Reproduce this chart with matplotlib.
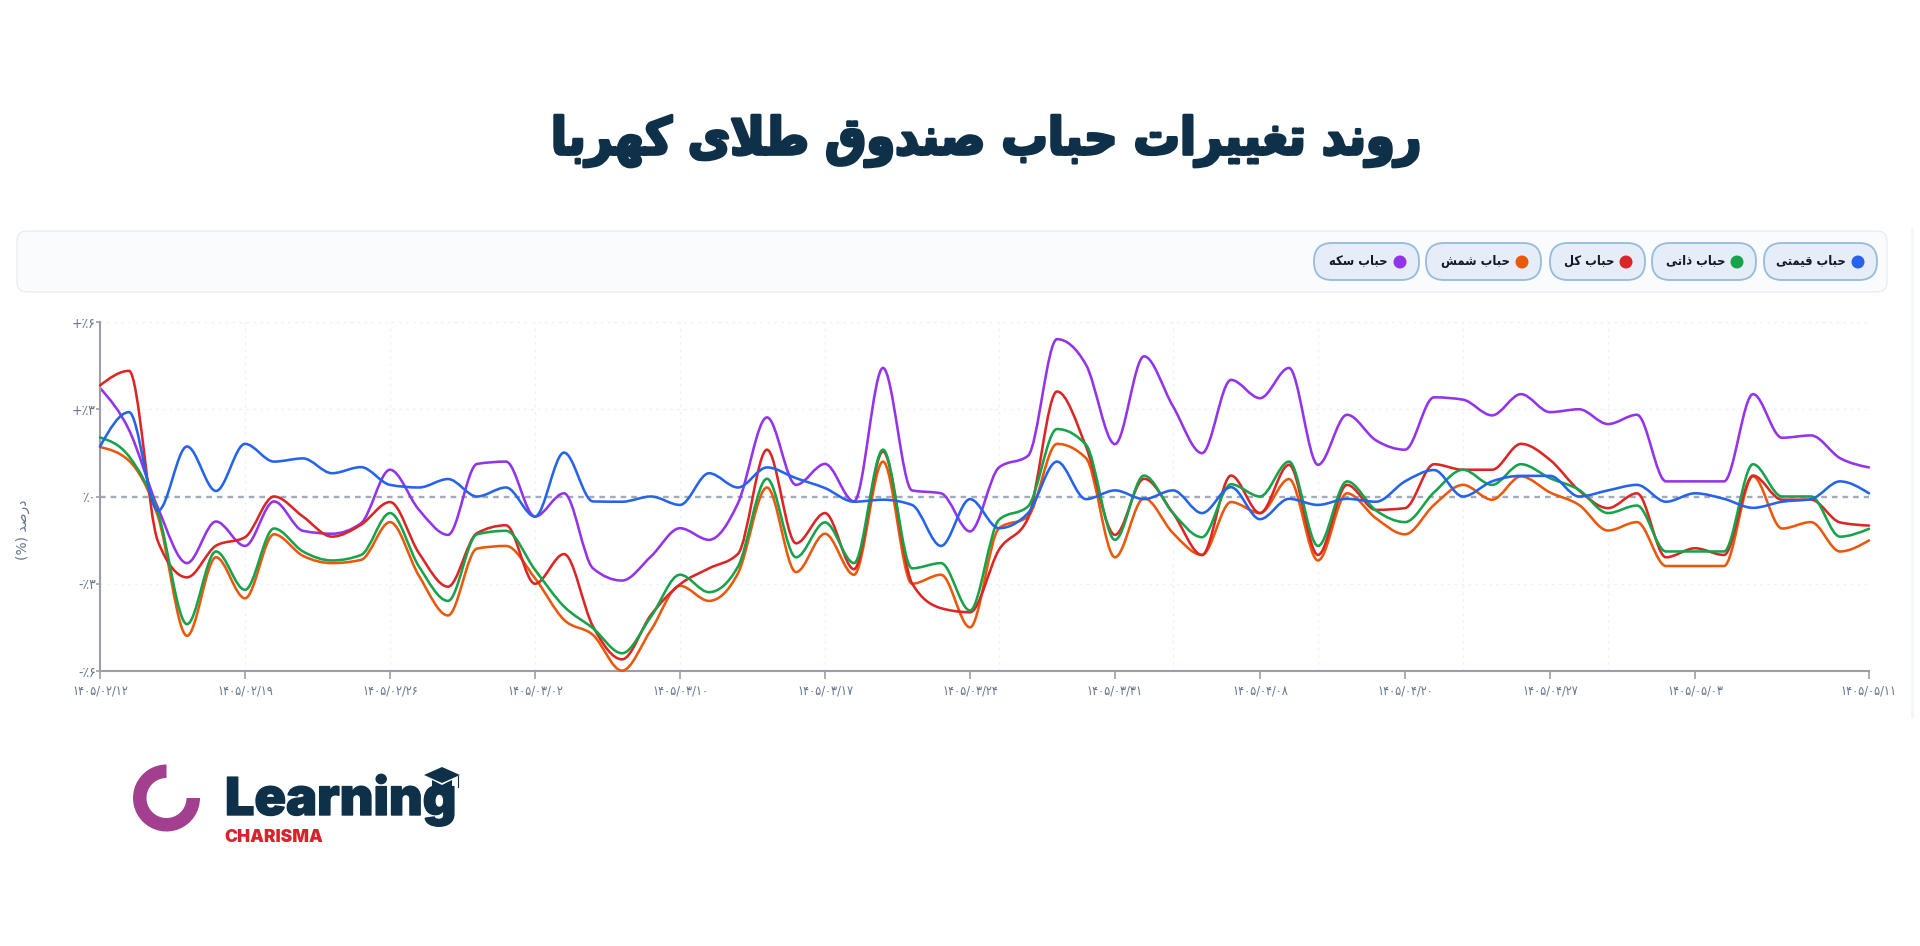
import numpy as np
import matplotlib
matplotlib.use("Agg")
import matplotlib.pyplot as plt
import matplotlib.patheffects as pe
from matplotlib.path import Path
from matplotlib.patches import PathPatch, FancyBboxPatch, Circle, Wedge, Polygon

# chart data, bubble in percent for each trading day
bubble_price = [1.72, 2.90, -0.49, 1.72, 0.19, 1.81, 1.20, 1.31, 0.80, 1.01, 0.40, 0.31, 0.60, 0.00, 0.31, -0.69,
                1.51, -0.17, -0.18, 0.00, -0.29, 0.80, 0.31, 1.00, 0.63, 0.29, -0.18, -0.11, -0.29, -1.70, -0.09,
                -1.09, -0.57, 1.20, -0.09, 0.21, -0.09, 0.21, -0.57, 0.32, -0.78, -0.08, -0.29, -0.08, -0.18, 0.52,
                0.91, 0.00, 0.52, 0.71, 0.71, 0.00, 0.21, 0.40, -0.18, 0.11, -0.08, -0.39, -0.18, -0.09, 0.52, 0.11]
bubble_intrinsic = [2.03, 1.38, -0.57, -4.39, -1.89, -3.21, -1.10, -1.89, -2.20, -2.01, -0.57, -2.41, -3.59, -1.30,
                    -1.18, -2.52, -3.78, -4.53, -5.39, -4.13, -2.69, -3.29, -2.41, 0.61, -2.09, -0.89, -2.29, 1.61,
                    -2.47, -2.29, -3.92, -0.80, -0.34, 2.32, 1.78, -1.49, 0.72, -0.57, -1.40, 0.42, 0.00, 1.20,
                    -1.70, 0.52, -0.48, -0.88, 0.14, 0.92, 0.40, 1.11, 0.63, 0.23, -0.57, -0.31, -1.89, -1.89, -1.89,
                    1.11, 0.00, 0.00, -1.38, -1.11]
bubble_total = [3.82, 4.32, -1.55, -2.78, -1.69, -1.40, 0.00, -0.69, -1.38, -0.97, -0.19, -1.95, -3.10, -1.26, -0.99,
                -3.00, -1.98, -4.47, -5.60, -4.07, -3.02, -2.47, -1.97, 1.61, -1.61, -0.57, -2.50, 1.55, -2.98, -3.84,
                -3.98, -1.83, -0.75, 3.61, 1.72, -1.32, 0.61, -0.57, -2.01, 0.72, -0.57, 1.09, -2.01, 0.40, -0.46,
                -0.40, 1.11, 0.92, 0.92, 1.81, 1.26, 0.21, -0.40, 0.11, -2.09, -1.78, -2.01, 0.72, -0.11, -0.11,
                -0.89, -1.00]
bubble_bar = [1.70, 1.23, -0.69, -4.79, -2.09, -3.50, -1.30, -2.04, -2.29, -2.18, -0.88, -2.73, -4.09, -1.79, -1.70,
              -2.81, -4.24, -4.76, -5.99, -4.59, -3.07, -3.59, -2.64, 0.31, -2.60, -1.28, -2.69, 1.20, -3.00, -2.69,
              -4.50, -1.09, -0.69, 1.81, 1.32, -2.09, -0.06, -1.26, -2.01, -0.19, -0.57, 0.60, -2.20, 0.11, -0.75,
              -1.30, -0.29, 0.40, -0.11, 0.69, 0.14, -0.29, -1.17, -0.88, -2.39, -2.39, -2.39, 0.69, -1.10, -0.88,
              -1.89, -1.51]
bubble_coin = [3.73, 2.29, -0.40, -2.29, -0.86, -1.70, -0.17, -1.18, -1.28, -0.92, 0.92, -0.46, -1.32, 1.12, 1.20,
               -0.69, 0.11, -2.47, -2.89, -2.06, -1.09, -1.49, -0.23, 2.72, 0.40, 1.12, -0.17, 4.42, 0.21, 0.11,
               -1.20, 1.00, 1.40, 5.41, 4.53, 1.80, 4.82, 3.10, 1.49, 4.01, 3.38, 4.42, 1.09, 2.81, 1.93, 1.61, 3.41,
               3.33, 2.79, 3.52, 2.90, 3.00, 2.49, 2.81, 0.52, 0.52, 0.52, 3.52, 2.02, 2.10, 1.32, 1.00]

tick_index = [0, 5, 10, 15, 20, 25, 30, 35, 40, 45, 50, 55, 61]
tick_labels = ["۱۴۰۵/۰۲/۱۲", "۱۴۰۵/۰۲/۱۹", "۱۴۰۵/۰۲/۲۶", "۱۴۰۵/۰۳/۰۲", "۱۴۰۵/۰۳/۱۰", "۱۴۰۵/۰۳/۱۷", "۱۴۰۵/۰۳/۲۴",
               "۱۴۰۵/۰۳/۳۱", "۱۴۰۵/۰۴/۰۸", "۱۴۰۵/۰۴/۲۰", "۱۴۰۵/۰۴/۲۷", "۱۴۰۵/۰۵/۰۳", "۱۴۰۵/۰۵/۱۱"]
grid_index = [5, 10, 15, 20, 25, 31, 37, 42, 47, 52, 61]
y_ticks = [-6, -3, 0, 3, 6]
y_tick_labels = ["-٪۶", "-٪۳", "٪۰", "+٪۳", "+٪۶"]

title_text = "روند تغییرات حباب صندوق طلای کهربا"
y_label_text = "درصد (%)"
series_names = ["حباب قیمتی", "حباب ذاتی", "حباب کل", "حباب شمش", "حباب سکه"]
series_colors = ["#2563eb", "#16a34a", "#dc2626", "#ea580c", "#9333ea"]

W, H = 1920, 946
NAVY = "#0f3049"
AXIS_GRAY = "#9b9fa5"
LABEL_GRAY = "#64748b"

# matplotlib does no arabic shaping, so pick the joined glyphs by hand
FORMS = {
    "ا": (0xFE8D, 0xFE8E), "د": (0xFEA9, 0xFEAA), "ذ": (0xFEAB, 0xFEAC), "ر": (0xFEAD, 0xFEAE), "و": (0xFEED, 0xFEEE),
    "ب": (0xFE8F, 0xFE90, 0xFE91, 0xFE92), "ت": (0xFE95, 0xFE96, 0xFE97, 0xFE98), "ح": (0xFEA1, 0xFEA2, 0xFEA3, 0xFEA4),
    "س": (0xFEB1, 0xFEB2, 0xFEB3, 0xFEB4), "ش": (0xFEB5, 0xFEB6, 0xFEB7, 0xFEB8), "ص": (0xFEB9, 0xFEBA, 0xFEBB, 0xFEBC),
    "ط": (0xFEC1, 0xFEC2, 0xFEC3, 0xFEC4), "غ": (0xFECD, 0xFECE, 0xFECF, 0xFED0), "ق": (0xFED5, 0xFED6, 0xFED7, 0xFED8),
    "ل": (0xFEDD, 0xFEDE, 0xFEDF, 0xFEE0), "م": (0xFEE1, 0xFEE2, 0xFEE3, 0xFEE4), "ن": (0xFEE5, 0xFEE6, 0xFEE7, 0xFEE8),
    "ه": (0xFEE9, 0xFEEA, 0xFEEB, 0xFEEC), "ک": (0xFB8E, 0xFB8F, 0xFB90, 0xFB91), "ی": (0xFBFC, 0xFBFD, 0xFBFE, 0xFBFF),
}
MIRROR = {"(": ")", ")": "("}


def fa(text):
    out = []
    i = 0
    while i < len(text):
        ch = text[i]
        if ch not in FORMS:
            out.append(MIRROR.get(ch, ch))
            i += 1
            continue
        prev_joins = i > 0 and len(FORMS.get(text[i - 1], ())) == 4
        # lam + alef is one glyph
        if ch == "ل" and text[i + 1:i + 2] == "ا":
            out.append(chr(0xFEFC if prev_joins else 0xFEFB))
            i += 2
            continue
        forms = FORMS[ch]
        next_joins = i + 1 < len(text) and text[i + 1] in FORMS
        if len(forms) == 4 and next_joins:
            out.append(chr(forms[3] if prev_joins else forms[2]))
        else:
            out.append(chr(forms[1] if prev_joins else forms[0]))
        i += 1
    return "".join(reversed(out))


def monotone_path(y):
    # same curve the web chart uses (monotone x), through the data points
    y = np.asarray(y, dtype=float)
    x = np.arange(len(y), dtype=float)
    s = np.diff(y)
    t = np.zeros(len(y))
    for i in range(1, len(y) - 1):
        p = (s[i - 1] + s[i]) / 2
        t[i] = (np.sign(s[i - 1]) + np.sign(s[i])) * min(abs(s[i - 1]), abs(s[i]), 0.5 * abs(p))
    t[0] = (3 * s[0] - t[1]) / 2
    t[-1] = (3 * s[-1] - t[-2]) / 2
    verts = [(x[0], y[0])]
    codes = [Path.MOVETO]
    for i in range(len(y) - 1):
        verts += [(x[i] + 1 / 3, y[i] + t[i] / 3), (x[i + 1] - 1 / 3, y[i + 1] - t[i + 1] / 3), (x[i + 1], y[i + 1])]
        codes += [Path.CURVE4] * 3
    return Path(verts, codes)


fig = plt.figure(figsize=(W / 100, H / 100), dpi=100, facecolor="white")

# page layer in pixel coordinates: title, legend strip, logo
page = fig.add_axes([0, 0, 1, 1])
page.set_xlim(0, W)
page.set_ylim(H, 0)
page.axis("off")

title = page.text(986, 141, fa(title_text), ha="center", va="center", fontsize=37, fontweight="bold",
                  color=NAVY, family="DejaVu Sans", stretch="condensed")
title.set_path_effects([pe.withStroke(linewidth=2.2, foreground=NAVY)])

page.add_patch(FancyBboxPatch((27, 241), 1850, 41, boxstyle="round,pad=10,rounding_size=10",
                              fc="#fafbfd", ec="#e9edf3", lw=1))

pill_left = [1764, 1652, 1550, 1426, 1314]
pill_right = [1877, 1756, 1645, 1541, 1419]
for name, color, x0, x1 in zip(series_names, series_colors, pill_left, pill_right):
    page.add_patch(FancyBboxPatch((x0 + 18, 243 + 18), x1 - x0 - 36, 1, boxstyle="round,pad=18,rounding_size=18",
                                  fc="#e5eef8", ec="#96bbdd", lw=1.3))
    page.add_patch(Circle((x1 - 19, 262), 6.5, fc=color, ec="none", zorder=3))
    page.text(x1 - 31, 261, fa(name), ha="right", va="center", fontsize=9.3, fontweight="bold", color="#111827",
              family="DejaVu Sans", stretch="condensed", zorder=3)

# pale strip near the right page edge
page.fill_between([1911, 1914], 228, 718, color="#f3f7fb", lw=0)

# logo
page.add_patch(Wedge((166.5, 798), 33.5, 0, 270, width=13.5, fc="#a2408f", ec="none"))
page.text(225, 815, "Learning", ha="left", va="baseline", fontsize=37.5, fontweight="black", color=NAVY, family="Inter",
          path_effects=[pe.withStroke(linewidth=1, foreground=NAVY)])
page.text(224, 842, "CHARISMA", ha="left", va="baseline", fontsize=12.5, fontweight="black", color="#d9222a",
          family="Inter")
page.add_patch(Polygon([(424, 775), (442, 767), (460, 775), (442, 783)], fc=NAVY, ec="none", zorder=4))
page.add_patch(Polygon([(432, 780), (442, 785), (452, 780), (452, 786), (442, 789), (432, 786)], fc=NAVY, ec="none", zorder=4))
page.plot([458, 458], [776, 787], color=NAVY, lw=0.8, zorder=4)

# chart
ax = fig.add_axes([100 / W, 1 - 671 / H, (1869 - 100) / W, (671 - 322) / H])
ax.patch.set_alpha(0)
ax.set_xlim(0, 61)
ax.set_ylim(-6, 6)

for i in grid_index:
    ax.axvline(i, color="#eef2f7", lw=1, ls=(0, (2, 3)), zorder=1)
for v in [-3, 3, 6]:
    ax.axhline(v, color="#eef2f7", lw=1, ls=(0, (2, 3)), zorder=1)
ax.axhline(0, color="#a3abb8", lw=1.7, ls=(0, (2.4, 2.1)), zorder=1.5)

all_series = [bubble_price, bubble_intrinsic, bubble_total, bubble_bar, bubble_coin]
z_order = [6, 5, 4, 3, 2]
for values, color, z in zip(all_series, series_colors, z_order):
    ax.add_patch(PathPatch(monotone_path(values), fc="none", ec=color, lw=1.85, zorder=z, clip_on=False,
                           capstyle="round", joinstyle="round"))

for side in ["top", "right"]:
    ax.spines[side].set_visible(False)
for side in ["left", "bottom"]:
    ax.spines[side].set_color(AXIS_GRAY)
    ax.spines[side].set_linewidth(1.5)
ax.set_xticks(tick_index)
ax.set_xticklabels(tick_labels, family="DejaVu Sans", fontsize=9, color=LABEL_GRAY, stretch="condensed")
ax.set_yticks(y_ticks)
ax.set_yticklabels(y_tick_labels, family="DejaVu Sans", fontsize=10, color=LABEL_GRAY, stretch="condensed")
ax.tick_params(axis="x", length=6, width=1.2, color=AXIS_GRAY, pad=4)
ax.tick_params(axis="y", length=3, width=1.2, color=AXIS_GRAY, pad=0)

page.text(23, 530, fa(y_label_text), rotation=90, ha="center", va="center", fontsize=10, color=LABEL_GRAY,
          family="DejaVu Sans")

fig.savefig("out.png", dpi=100, facecolor="white")
